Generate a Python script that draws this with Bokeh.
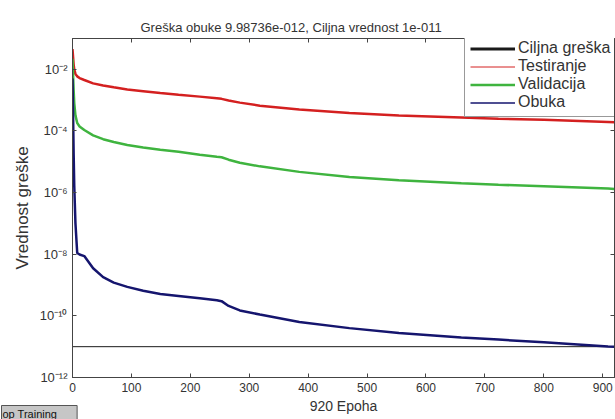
from bokeh.plotting import figure
from bokeh.models import (LogAxis, LinearAxis, FixedTicker, Legend,
                          LegendItem, Range1d, Title)
from bokeh.embed import file_html
from bokeh.resources import INLINE

# ---- data ----
epochs = [0, 1, 2, 3, 5, 8, 12, 20, 35, 52, 70, 93, 120, 149, 180, 216, 245,
          253, 265, 284, 318, 385, 470, 554, 660, 723, 800, 909, 920]
testiranje = [4.5e-2, 2.5e-2, 1.4e-2, 1.0e-2, 7.1e-3, 5.9e-3, 5.2e-3, 4.5e-3,
              3.5e-3, 3.0e-3, 2.6e-3, 2.2e-3, 1.95e-3, 1.7e-3, 1.5e-3, 1.3e-3,
              1.15e-3, 1.1e-3, 9.8e-4, 8.3e-4, 6.6e-4, 5.0e-4, 3.8e-4, 3.2e-4,
              2.75e-4, 2.5e-4, 2.3e-4, 1.95e-4, 1.9e-4]
validacija = [2.2e-2, 6.3e-3, 2.0e-3, 7.9e-4, 3.2e-4, 1.8e-4, 1.4e-4, 1.07e-4,
              7.2e-5, 5.4e-5, 4.4e-5, 3.5e-5, 2.9e-5, 2.45e-5, 2.1e-5, 1.7e-5,
              1.45e-5, 1.4e-5, 1.17e-5, 9.3e-6, 7.1e-6, 4.7e-6, 3.2e-6, 2.5e-6,
              2.0e-6, 1.8e-6, 1.6e-6, 1.35e-6, 1.3e-6]
obuka = [5.0e-3, 3.2e-4, 1.6e-5, 1.6e-6, 1.0e-7, 1.1e-8, 9.8e-9, 8.7e-9,
         3.5e-9, 1.8e-9, 1.2e-9, 8.7e-10, 6.5e-10, 5.1e-10, 4.4e-10, 3.7e-10,
         3.2e-10, 3.0e-10, 2.1e-10, 1.5e-10, 1.1e-10, 6.3e-11, 4.0e-11, 2.8e-11,
         2.0e-11, 1.7e-11, 1.38e-11, 1.02e-11, 9.98736e-12]
cilj_x = [0, 920]
cilj_y = [1e-11, 1e-11]

x_ticks = [0, 100, 200, 300, 400, 500, 600, 700, 800, 900]
y_ticks = [1e-12, 1e-10, 1e-8, 1e-6, 1e-4, 1e-2]
y_tick_labels = ["10⁻¹²", "10⁻¹⁰", "10⁻⁸", "10⁻⁶", "10⁻⁴", "10⁻²"]

title_text = "Greška obuke 9.98736e-012, Ciljna vrednost 1e-011"
x_label = "920 Epoha"
y_label = "Vrednost greške"
names = ["Ciljna greška", "Testiranje", "Validacija", "Obuka"]
button_text = "op Training"

FONT = "Liberation Sans"
TXT = "#333333"
AX = "#444444"
C_CILJ, C_TEST, C_VAL, C_OBU = "#1a1a1a", "#d42020", "#3fb43f", "#15156e"

p = figure(width=615, height=419, y_axis_type="log",
           x_range=Range1d(0, 920), y_range=Range1d(1e-12, 1e-1),
           output_backend="svg", toolbar_location=None,
           min_border_left=72, min_border_right=1, min_border_top=38,
           min_border_bottom=42, background_fill_color="white",
           border_fill_color="white")

p.title.text = title_text
p.title.align = "left"
p.title.offset = 68
p.title.standoff = 8
p.title.text_font = FONT
p.title.text_font_size = "13px"
p.title.text_font_style = "normal"
p.title.text_color = TXT

p.xgrid.visible = False
p.ygrid.visible = False
p.outline_line_color = AX

xa = p.xaxis[0]
xa.ticker = FixedTicker(ticks=x_ticks)
xa.axis_label = x_label
ya = p.yaxis[0]
ya.ticker = FixedTicker(ticks=y_ticks)
ya.major_label_overrides = {t: s for t, s in zip(y_ticks, y_tick_labels)}
ya.axis_label = y_label

for ax in (xa, ya):
    ax.major_tick_in = 4
    ax.major_tick_out = 0
    ax.minor_tick_line_color = None
    ax.axis_line_color = AX
    ax.major_tick_line_color = AX
    ax.major_label_text_font = FONT
    ax.major_label_text_color = TXT
    ax.axis_label_text_font = FONT
    ax.axis_label_text_font_style = "normal"
    ax.axis_label_text_color = TXT
xa.major_label_text_font_size = "12px"
ya.major_label_text_font_size = "13px"
xa.axis_label_text_font_size = "14px"
ya.axis_label_text_font_size = "17px"
xa.major_label_standoff = 5
xa.axis_label_standoff = 3
ya.major_label_standoff = 5
ya.axis_label_standoff = 5

top = LinearAxis(ticker=FixedTicker(ticks=x_ticks))
right = LogAxis(ticker=FixedTicker(ticks=y_ticks))
for ax in (top, right):
    ax.major_tick_in = 4
    ax.major_tick_out = 0
    ax.minor_tick_line_color = None
    ax.axis_line_color = AX
    ax.major_tick_line_color = AX
    ax.major_label_text_font_size = "0px"
    ax.major_label_text_alpha = 0
    ax.major_label_standoff = 0
p.add_layout(top, "above")
p.add_layout(right, "right")

p.line(cilj_x, cilj_y, line_color=C_CILJ, line_width=1)
p.line(epochs, testiranje, line_color=C_TEST, line_width=2.5)
p.line(epochs, validacija, line_color=C_VAL, line_width=2.5)
p.line(epochs, obuka, line_color=C_OBU, line_width=2.5)

# legend samples (styled as in the reference legend), kept outside the x range
off_x = [-100, -90]
off_y = [1e-5, 1e-5]
l_c = p.line(off_x, off_y, line_color=C_CILJ, line_width=3)
l_t = p.line(off_x, off_y, line_color=C_TEST, line_width=1)
l_v = p.line(off_x, off_y, line_color=C_VAL, line_width=2.5)
l_o = p.line(off_x, off_y, line_color=C_OBU, line_width=1.5)

legend = Legend(items=[LegendItem(label=names[0], renderers=[l_c]),
                       LegendItem(label=names[1], renderers=[l_t]),
                       LegendItem(label=names[2], renderers=[l_v]),
                       LegendItem(label=names[3], renderers=[l_o])],
                location=(392, 260), margin=0, padding=5, spacing=0,
                glyph_width=45, glyph_height=17, label_height=17,
                label_standoff=3, label_text_font=FONT,
                label_text_font_size="16px", label_text_color=TXT,
                border_line_color="#333333", border_line_width=1,
                background_fill_color="white", background_fill_alpha=1)
p.add_layout(legend, "center")

btn = Title(text=button_text, align="left", vertical_align="top",
            offset=-71, standoff=-22,
            text_font=FONT, text_font_size="11px", text_font_style="normal",
            text_color="#111111", background_fill_color="#c6c6c6",
            border_line_color="#555555",
            padding=dict(left=1, right=20, top=2, bottom=2))
p.add_layout(btn, "below")

open("out.html", "w").write(file_html(p, INLINE))
